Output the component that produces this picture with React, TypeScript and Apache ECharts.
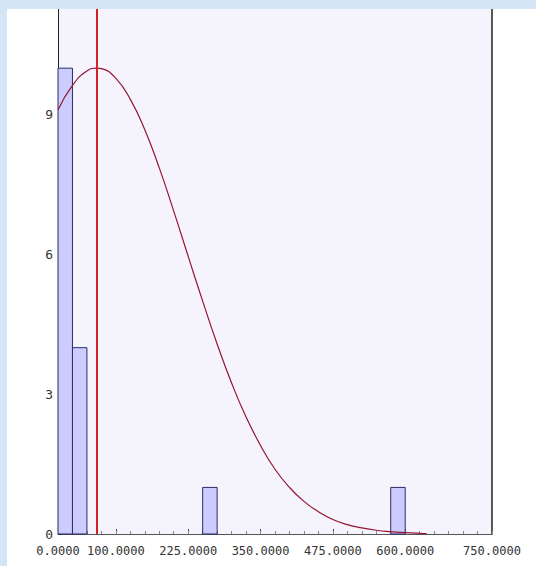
import React, { useEffect, useRef } from "react";
import * as echarts from "echarts";

// Histogram bins (start, end, count)
const binStarts = [0, 25, 250, 575];
const binEnds = [25, 50, 275, 600];
const binCounts = [10, 4, 1, 1];

// Fitted curve
const curveX = [0, 25, 50, 67.4, 75, 100, 125, 150, 175, 200, 225, 250, 275, 300, 325, 350, 375, 400, 425, 450, 475, 500, 525, 550, 575, 600, 625, 637];
const curveY = [9.1, 9.63, 9.94, 10.0, 9.99, 9.78, 9.33, 8.68, 7.86, 6.93, 5.96, 5.0, 4.08, 3.24, 2.51, 1.9, 1.39, 1.0, 0.7, 0.48, 0.31, 0.2, 0.13, 0.08, 0.05, 0.03, 0.015, 0.01];

const meanValue = 67.4;

const xLabelValues = [0, 100, 225, 350, 475, 600, 750];
const xMajorTicks = [100, 225, 350, 475, 600];

const FONT = "'DejaVu Sans Mono', 'Liberation Mono', monospace";

export default function App() {
  const ref = useRef<HTMLDivElement>(null);

  useEffect(() => {
    if (!ref.current) return;
    const chart = echarts.init(ref.current, null, { renderer: "svg" });
    const barData = binStarts.map((s, i) => [s, binEnds[i], binCounts[i]]);
    const lineData = curveX.map((x, i) => [x, curveY[i]]);

    chart.setOption({
      animation: false,
      backgroundColor: "#ffffff",
      grid: {
        left: 51,
        right: 44,
        top: 0,
        bottom: 32,
        show: true,
        backgroundColor: "#f5f4fd",
        borderWidth: 0,
      },
      xAxis: [
        {
          type: "value",
          min: 0,
          max: 750,
          position: "bottom",
          splitLine: { show: false },
          axisLine: { show: true, onZero: false, lineStyle: { color: "#555555", width: 1 } },
          axisTick: {
            show: true,
            inside: true,
            length: 5,
            customValues: xMajorTicks,
            lineStyle: { color: "#444444" },
          },
          axisLabel: {
            show: true,
            customValues: xLabelValues,
            formatter: (v: number) => v.toFixed(4),
            fontFamily: FONT,
            fontSize: 12,
            color: "#333333",
            margin: 11,
          },
        },
        {
          type: "value",
          min: 0,
          max: 750,
          interval: 25,
          position: "bottom",
          splitLine: { show: false },
          axisLine: { show: false },
          axisTick: { show: true, inside: true, length: 3, lineStyle: { color: "#888888" } },
          axisLabel: { show: false },
        },
      ],
      yAxis: [
        {
          type: "value",
          min: 0,
          max: 11.27,
          interval: 3,
          position: "left",
          splitLine: { show: false },
          axisLine: { show: true, onZero: false, lineStyle: { color: "#222222", width: 1 } },
          axisTick: { show: true, inside: true, length: 4, lineStyle: { color: "#333333" } },
          axisLabel: {
            fontFamily: FONT,
            fontSize: 13,
            color: "#333333",
            margin: 5,
            showMaxLabel: false,
          },
        },
        {
          type: "value",
          min: 0,
          max: 11.27,
          position: "right",
          splitLine: { show: false },
          axisLine: { show: true, onZero: false, lineStyle: { color: "#222222", width: 1.5 } },
          axisTick: { show: false },
          axisLabel: { show: false },
        },
      ],
      series: [
        {
          type: "custom",
          xAxisIndex: 0,
          yAxisIndex: 0,
          data: barData,
          renderItem: (params: any, api: any) => {
            const s = api.value(0);
            const e = api.value(1);
            const c = api.value(2);
            const p0 = api.coord([s, c]);
            const p1 = api.coord([e, 0]);
            return {
              type: "rect",
              shape: { x: p0[0], y: p0[1], width: p1[0] - p0[0], height: p1[1] - p0[1] },
              style: { fill: "#ccccff", stroke: "#2b2b66", lineWidth: 1 },
            };
          },
          encode: { x: [0, 1], y: 2 },
          z: 2,
        },
        {
          type: "line",
          xAxisIndex: 0,
          yAxisIndex: 0,
          data: lineData,
          smooth: true,
          symbol: "none",
          lineStyle: { color: "#951530", width: 1.2 },
          z: 3,
          markLine: {
            silent: true,
            symbol: "none",
            label: { show: false },
            lineStyle: { color: "#d42020", width: 2, type: "solid" },
            data: [{ xAxis: meanValue }],
          },
        },
      ],
    });
    return () => chart.dispose();
  }, []);

  return (
    <div
      style={{
        position: "fixed",
        left: 0,
        top: 0,
        width: 536,
        height: 566,
        background: "#d4e6f6",
        overflow: "hidden",
      }}
    >
      <div
        ref={ref}
        style={{ position: "absolute", left: 7, top: 9, width: 529, height: 557 }}
      />
    </div>
  );
}
